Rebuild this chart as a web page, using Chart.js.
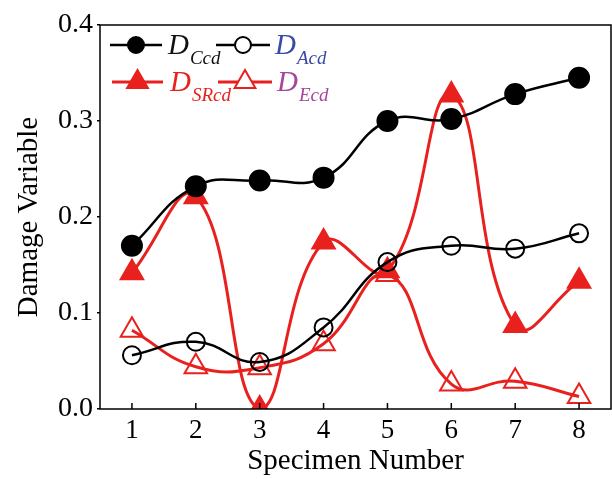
<!DOCTYPE html>
<html>
<head>
<meta charset="utf-8">
<script src="https://cdn.jsdelivr.net/npm/chart.js@4"></script>
<style>
  html, body { margin: 0; padding: 0; background: #fff; overflow: hidden; }
  #wrap { width: 612px; height: 479px; position: relative; }
  canvas { display: block; }
</style>
</head>
<body>
<div id="wrap"><canvas id="damageChart"></canvas></div>
<script>
const specimens = [1, 2, 3, 4, 5, 6, 7, 8];
const dCcd = [0.170, 0.232, 0.238, 0.241, 0.300, 0.302, 0.328, 0.345];
const dAcd = [0.056, 0.070, 0.049, 0.085, 0.153, 0.170, 0.167, 0.183];
const dSRcd = [0.142, 0.221, 0.000, 0.174, 0.144, 0.327, 0.087, 0.133];
const dEcd = [0.082, 0.044, 0.043, 0.068, 0.140, 0.026, 0.029, 0.013];
const xTickLabels = ["1", "2", "3", "4", "5", "6", "7", "8"];
const yTickLabels = ["0.0", "0.1", "0.2", "0.3", "0.4"];

const RED = "#e8211f";
const serif = "'Liberation Serif', 'DejaVu Serif', serif";

function toPoints(values) {
    return specimens.map((s, i) => ({ x: s, y: values[i] }));
}

const seriesInfo = [
    { name: "Ccd", data: dCcd, color: "#000", style: "circle", fill: true, labelColor: "#111" },
    { name: "Acd", data: dAcd, color: "#000", style: "circle", fill: false, labelColor: "#3b4aa6" },
    { name: "SRcd", data: dSRcd, color: RED, style: "triangle", fill: true, labelColor: RED },
    { name: "Ecd", data: dEcd, color: RED, style: "triangle", fill: false, labelColor: "#a6459c" }
];

const datasets = seriesInfo.map((s) => ({
    label: "D" + s.name,
    data: toPoints(s.data),
    borderColor: s.color,
    borderWidth: s.color === RED ? 3 : 2.5,
    tension: 0.45,
    pointStyle: s.style,
    pointRadius: s.style === "circle" ? (s.fill ? 10 : 9) : 13,
    pointBorderWidth: 2,
    pointBackgroundColor: s.fill ? s.color : "rgba(255,255,255,0)",
    pointBorderColor: s.color,
    fill: false
}));

// frame, inward x ticks and the in-plot legend
const extras = {
    id: "extras",
    afterDraw(chart) {
        const ctx = chart.ctx;
        const area = chart.chartArea;
        const xs = chart.scales.x;
        ctx.save();
        ctx.strokeStyle = "#000";
        ctx.lineWidth = 1.5;
        ctx.strokeRect(area.left, area.top, area.right - area.left, area.bottom - area.top);
        specimens.forEach((s) => {
            const px = xs.getPixelForValue(s);
            ctx.beginPath();
            ctx.moveTo(px, area.bottom);
            ctx.lineTo(px, area.bottom - 6);
            ctx.stroke();
        });

        const slots = [
            { x1: 110, x2: 162, y: 45, tx: 168 },
            { x1: 216, x2: 270, y: 45, tx: 275 },
            { x1: 112, x2: 163, y: 82, tx: 170 },
            { x1: 218, x2: 272, y: 82, tx: 277 }
        ];
        seriesInfo.forEach((s, i) => {
            const slot = slots[i];
            ctx.strokeStyle = s.color;
            ctx.lineWidth = s.color === RED ? 3 : 2.5;
            ctx.beginPath();
            ctx.moveTo(slot.x1, slot.y);
            ctx.lineTo(slot.x2, slot.y);
            ctx.stroke();
            ctx.fillStyle = s.fill ? s.color : "#fff";
            ctx.lineWidth = 2;
            Chart.helpers.drawPoint(ctx, {
                pointStyle: s.style,
                radius: s.style === "circle" ? 8 : 12,
                rotation: 0,
                borderWidth: 2
            }, (slot.x1 + slot.x2) / 2, slot.y);

            ctx.fillStyle = s.labelColor;
            ctx.textBaseline = "alphabetic";
            ctx.textAlign = "left";
            ctx.font = "italic 29px " + serif;
            ctx.fillText("D", slot.tx, slot.y + 9);
            const w = ctx.measureText("D").width;
            ctx.font = "italic 19px " + serif;
            ctx.fillText(s.name, slot.tx + w + 1, slot.y + 19);
        });
        ctx.restore();
    }
};

new Chart(document.getElementById("damageChart"), {
    type: "line",
    data: { datasets: datasets },
    options: {
        responsive: true,
        maintainAspectRatio: false,
        animation: false,
        layout: { autoPadding: false, padding: { top: 25, right: 1, left: 0, bottom: 0 } },
        plugins: {
            legend: { display: false },
            tooltip: { enabled: false }
        },
        scales: {
            x: {
                type: "linear",
                min: 0.5,
                max: 8.5,
                afterFit: (scale) => { scale.height = 70; },
                afterBuildTicks: (scale) => {
                    scale.ticks = specimens.map((s) => ({ value: s }));
                },
                ticks: {
                    color: "#000",
                    font: { family: serif, size: 27 },
                    padding: 6,
                    callback: (v) => xTickLabels[specimens.indexOf(v)]
                },
                grid: { display: true, drawOnChartArea: false, drawTicks: false },
                border: { display: false },
                title: {
                    display: true,
                    text: "Specimen Number",
                    color: "#000",
                    font: { family: serif, size: 29 },
                    padding: { top: 0, bottom: 0 }
                }
            },
            y: {
                min: 0,
                max: 0.4,
                afterFit: (scale) => { scale.width = 100; },
                ticks: {
                    stepSize: 0.1,
                    color: "#000",
                    font: { family: serif, size: 28 },
                    padding: 4,
                    callback: (v) => yTickLabels[Math.round(v * 10)]
                },
                grid: { drawOnChartArea: false, drawTicks: true, tickLength: 3, color: "#000", lineWidth: 1.5 },
                border: { display: false },
                title: {
                    display: true,
                    text: "Damage Variable",
                    color: "#000",
                    font: { family: serif, size: 29 },
                    padding: { top: 12, bottom: 0 }
                }
            }
        }
    },
    plugins: [extras]
});
</script>
</body>
</html>
